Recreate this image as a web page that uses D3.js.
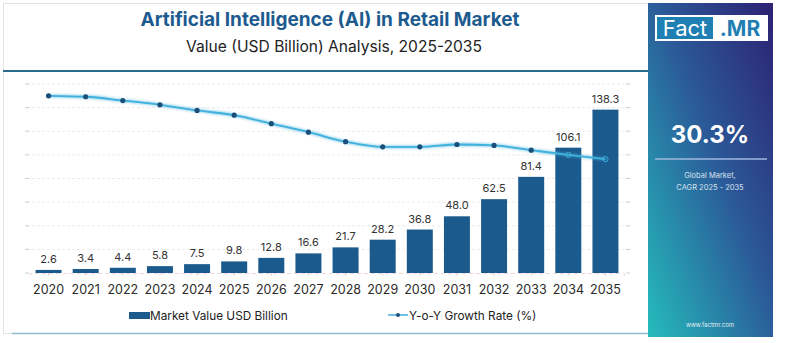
<!DOCTYPE html>
<html>
<head>
<meta charset="utf-8">
<script src="https://cdn.jsdelivr.net/npm/d3@7"></script>
<style>
  body { margin: 0; background: #fff; }
  svg { display: block; font-family: 'Inter', 'Open Sans', sans-serif; }
</style>
</head>
<body>
<svg id="chart" width="786" height="343"></svg>
<script>
// market data
const years = ['2020', '2021', '2022', '2023', '2024', '2025', '2026', '2027',
  '2028', '2029', '2030', '2031', '2032', '2033', '2034', '2035']
const marketValue = [2.6, 3.4, 4.4, 5.8, 7.5, 9.8, 12.8, 16.6, 21.7, 28.2, 36.8, 48.0, 62.5, 81.4, 106.1, 138.3]
const growthRate = [37.5, 37.3, 36.5, 35.6, 34.4, 33.4, 31.6, 29.8, 27.8, 26.7, 26.7, 27.2, 27.0, 26.0, 25.0, 24.1]
const gridTicks = [0, 20, 40, 60, 80, 100, 120, 140, 160]

const titleText = 'Artificial Intelligence (AI) in Retail Market'
const subtitleText = 'Value (USD Billion) Analysis, 2025-2035'
const cagrText = '30.3%'

const svg = d3.select('#chart')
const barColor = '#1b5a8d'
const lineColor = '#3fb0dc'

const defs = svg.append('defs')
const grad = defs.append('linearGradient')
  .attr('id', 'panelGrad')
  .attr('x1', '100%').attr('y1', '0%')
  .attr('x2', '0%').attr('y2', '100%')
grad.append('stop').attr('offset', '0%').attr('stop-color', '#2d2272')
grad.append('stop').attr('offset', '45%').attr('stop-color', '#2b5898')
grad.append('stop').attr('offset', '100%').attr('stop-color', '#25bcbc')

const glow = defs.append('filter').attr('id', 'glow')
  .attr('x', '-10%').attr('y', '-50%').attr('width', '120%').attr('height', '200%')
glow.append('feGaussianBlur').attr('stdDeviation', 1.5).attr('result', 'b')
const merge = glow.append('feMerge')
merge.append('feMergeNode').attr('in', 'b')
merge.append('feMergeNode').attr('in', 'SourceGraphic')

// card + header
svg.append('rect')
  .attr('x', 3.5).attr('y', 3.5).attr('width', 645).attr('height', 330)
  .attr('fill', '#fff').attr('stroke', '#e2e2e2')

svg.append('text')
  .attr('x', 330).attr('y', 26)
  .attr('text-anchor', 'middle')
  .attr('font-size', 19).attr('font-weight', 700)
  .attr('fill', '#1d5b8f')
  .text(titleText)

svg.append('text')
  .attr('x', 334).attr('y', 52)
  .attr('text-anchor', 'middle')
  .attr('font-size', 15.6)
  .attr('fill', '#222')
  .text(subtitleText)

svg.append('line')
  .attr('x1', 3).attr('x2', 648).attr('y1', 71).attr('y2', 71)
  .attr('stroke', '#2a6c8c').attr('stroke-width', 2)

svg.append('line')
  .attr('x1', 12).attr('x2', 648).attr('y1', 333.5).attr('y2', 333.5)
  .attr('stroke', '#8dbccc').attr('stroke-width', 1.5)

// scales
const x = d3.scaleBand().domain(years).range([30, 624]).paddingInner(0.3).paddingOuter(0.15)
const y = d3.scaleLinear().domain([0, 160]).range([273, 84])
const y2 = d3.scaleLinear().domain([0, 40]).range([273, 84])

// grid
const grid = svg.append('g')
grid.selectAll('line')
  .data(gridTicks.slice(1))
  .enter().append('line')
  .attr('x1', 27).attr('x2', 628)
  .attr('y1', d => y(d)).attr('y2', d => y(d))
  .attr('stroke', '#ececec').attr('stroke-dasharray', '3,2')

grid.selectAll('.tl')
  .data(gridTicks)
  .enter().append('line')
  .attr('x1', 25).attr('x2', 29)
  .attr('y1', d => y(d)).attr('y2', d => y(d))
  .attr('stroke', '#cfcfcf')
grid.selectAll('.tr')
  .data(gridTicks)
  .enter().append('line')
  .attr('x1', 626).attr('x2', 630)
  .attr('y1', d => y(d)).attr('y2', d => y(d))
  .attr('stroke', '#cfcfcf')

// x axis
const xAxis = svg.append('g')
  .attr('transform', `translate(0, ${y(0)})`)
  .call(d3.axisBottom(x).tickSize(3).tickPadding(9))
xAxis.select('.domain').attr('stroke', '#f0d8d8').attr('stroke-dasharray', '4,3')
xAxis.selectAll('.tick line').attr('stroke', '#f0d0d0')
xAxis.selectAll('.tick text')
  .attr('font-family', 'Inter, sans-serif')
  .attr('font-size', 12.5).attr('fill', '#2a2a2a')

// bars
svg.append('g').selectAll('rect')
  .data(years)
  .enter().append('rect')
  .attr('x', d => x(d))
  .attr('width', x.bandwidth())
  .attr('y', (d, i) => y(marketValue[i]))
  .attr('height', (d, i) => y(0) - y(marketValue[i]))
  .attr('fill', barColor)

svg.append('g').selectAll('text')
  .data(years)
  .enter().append('text')
  .attr('x', d => x(d) + x.bandwidth() / 2)
  .attr('y', (d, i) => y(marketValue[i]) - 7)
  .attr('text-anchor', 'middle')
  .attr('font-size', 11).attr('fill', '#333')
  .text((d, i) => marketValue[i].toFixed(1))

// growth line
const line = d3.line()
  .x((d, i) => x(years[i]) + x.bandwidth() / 2)
  .y(d => y2(d))
  .curve(d3.curveMonotoneX)

svg.append('path')
  .datum(growthRate)
  .attr('d', line)
  .attr('fill', 'none')
  .attr('stroke', lineColor).attr('stroke-width', 1.8)
  .attr('filter', 'url(#glow)')

svg.append('g').selectAll('circle')
  .data(growthRate)
  .enter().append('circle')
  .attr('cx', (d, i) => x(years[i]) + x.bandwidth() / 2)
  .attr('cy', d => y2(d))
  .attr('r', 2.6)
  .attr('fill', (d, i) => i >= 14 ? 'none' : '#1b4f7a')
  .attr('stroke', (d, i) => i >= 14 ? lineColor : 'none')

// legend
const legend = svg.append('g').attr('font-size', 11.8).attr('fill', '#222')
legend.append('rect')
  .attr('x', 129).attr('y', 312).attr('width', 21).attr('height', 7)
  .attr('fill', barColor)
legend.append('text').attr('x', 150).attr('y', 319.5).text('Market Value USD Billion')
legend.append('line')
  .attr('x1', 388).attr('x2', 408).attr('y1', 315).attr('y2', 315)
  .attr('stroke', lineColor).attr('stroke-width', 1.5)
legend.append('circle').attr('cx', 398).attr('cy', 315).attr('r', 2).attr('fill', '#1b4f7a')
legend.append('text').attr('x', 409).attr('y', 319.5).text('Y-o-Y Growth Rate (%)')

// side panel
const panel = svg.append('g')
panel.append('rect')
  .attr('x', 648).attr('y', 3).attr('width', 125).attr('height', 334)
  .attr('fill', 'url(#panelGrad)')

panel.append('rect')
  .attr('x', 655).attr('y', 15).attr('width', 113).attr('height', 26)
  .attr('fill', '#fff')
panel.append('rect')
  .attr('x', 657).attr('y', 17).attr('width', 56).attr('height', 22)
  .attr('fill', '#1f7fb2')
panel.append('text')
  .attr('x', 685).attr('y', 36).attr('text-anchor', 'middle')
  .attr('font-size', 22).attr('fill', '#fff')
  .text('Fact')
panel.append('text')
  .attr('x', 740).attr('y', 36).attr('text-anchor', 'middle')
  .attr('font-size', 21).attr('font-weight', 700).attr('fill', '#1f7fb2')
  .text('.MR')

panel.append('text')
  .attr('x', 710).attr('y', 143).attr('text-anchor', 'middle')
  .attr('font-size', 24).attr('font-weight', 700).attr('fill', '#fff')
  .text(cagrText)
panel.append('line')
  .attr('x1', 655).attr('x2', 767).attr('y1', 159).attr('y2', 159)
  .attr('stroke', '#9fb8df').attr('stroke-width', 1.5)
panel.append('text')
  .attr('x', 710).attr('y', 178).attr('text-anchor', 'middle')
  .attr('font-size', 7.5).attr('fill', '#d8e2f0')
  .text('Global Market,')
panel.append('text')
  .attr('x', 710).attr('y', 189.5).attr('text-anchor', 'middle')
  .attr('font-size', 7.5).attr('fill', '#d8e2f0')
  .text('CAGR 2025 - 2035')
panel.append('text')
  .attr('x', 710).attr('y', 327).attr('text-anchor', 'middle')
  .attr('font-size', 6).attr('fill', '#e0eef2')
  .text('www.factmr.com')
</script>
</body>
</html>
